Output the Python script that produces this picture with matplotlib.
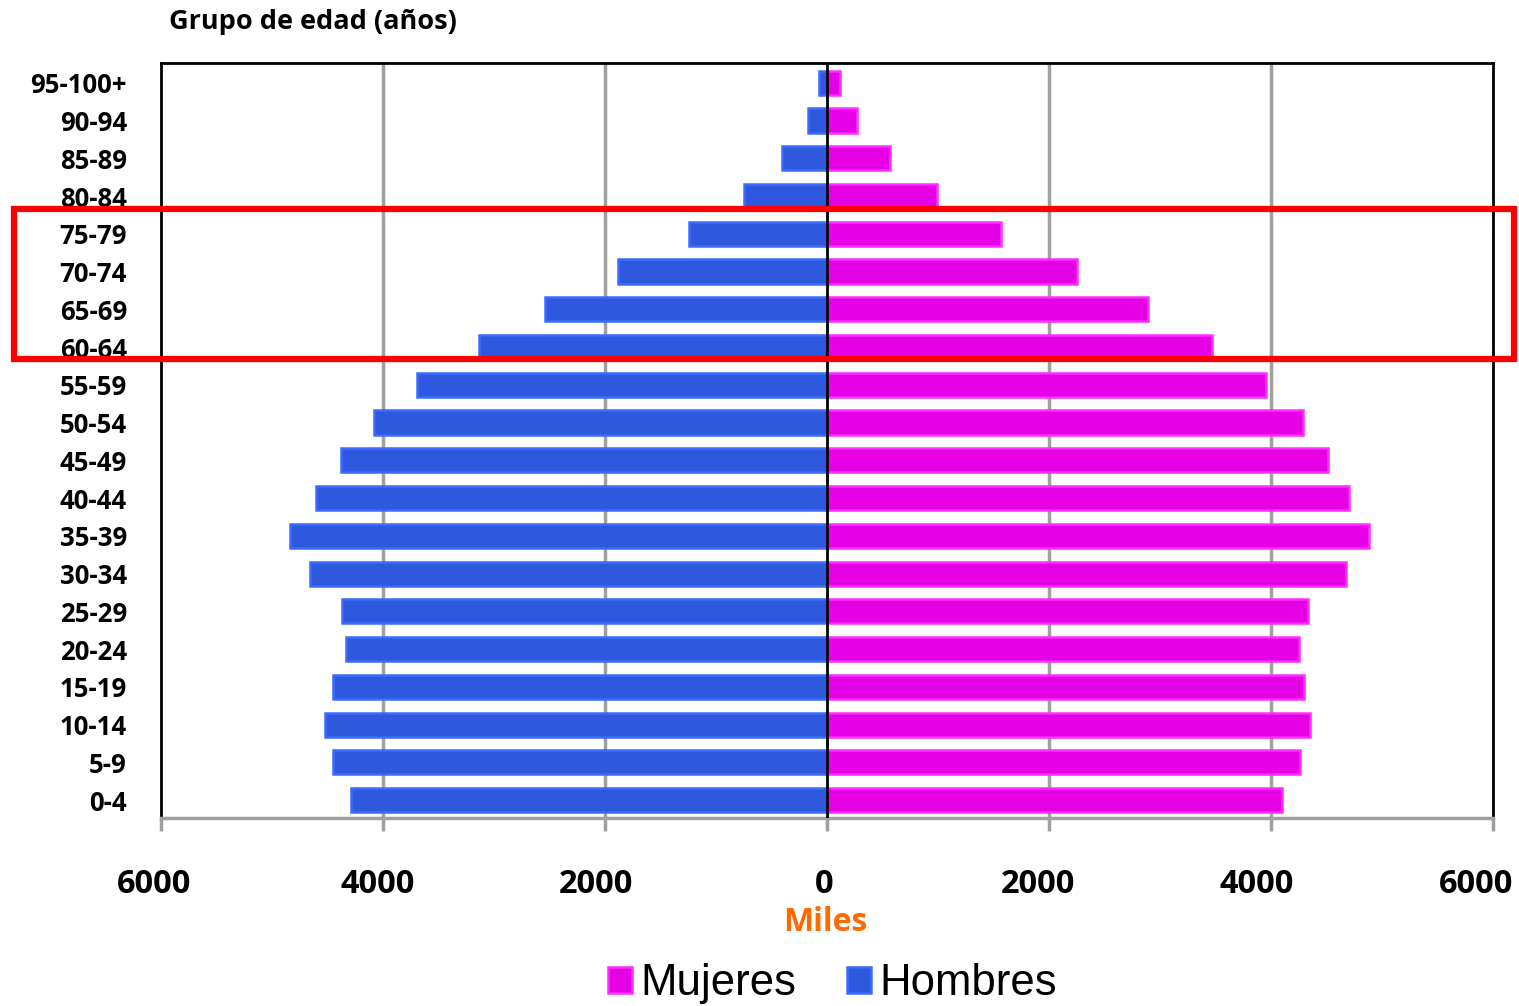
import numpy as np
import matplotlib
matplotlib.use("Agg")
import matplotlib.pyplot as plt
from matplotlib.patches import Rectangle
from matplotlib.transforms import ScaledTranslation

# age groups, youngest first (bottom of the pyramid)
grupos = ["0-4", "5-9", "10-14", "15-19", "20-24", "25-29", "30-34", "35-39",
          "40-44", "45-49", "50-54", "55-59", "60-64", "65-69", "70-74",
          "75-79", "80-84", "85-89", "90-94", "95-100+"]

# population in thousands
hombres = [4290, 4450, 4520, 4450, 4330, 4370, 4660, 4840, 4600, 4375,
           4080, 3690, 3140, 2540, 1880, 1240, 750, 405, 170, 75]
mujeres = [4100, 4260, 4350, 4300, 4250, 4330, 4670, 4880, 4700, 4510,
           4285, 3950, 3465, 2890, 2250, 1565, 990, 565, 270, 115]

xticks = [-6000, -4000, -2000, 0, 2000, 4000, 6000]

C_MUJ = "#e600e6"
C_MUJ_EDGE = "#ff2cff"
C_HOM = "#2e58de"
C_HOM_EDGE = "#3a6aff"
FONT = "Open Sans"

fig = plt.figure(figsize=(15.19, 10.06), dpi=100)
ax = fig.add_axes([0.106, 0.187, 0.877, 0.7506])

y = np.arange(len(grupos))
ax.barh(y, [-v for v in hombres], height=0.64, color=C_HOM,
        edgecolor=C_HOM_EDGE, linewidth=1.8, zorder=3, label="Hombres")
ax.barh(y, mujeres, height=0.64, color=C_MUJ,
        edgecolor=C_MUJ_EDGE, linewidth=1.8, zorder=3, label="Mujeres")

ax.axvline(0, color="black", lw=2, zorder=4)
for xv in [-4000, -2000, 2000, 4000]:
    ax.axvline(xv, color="#a0a0a0", lw=2.5, zorder=1)

ax.set_xlim(-6000, 6000)
ax.set_ylim(-0.47, 19.53)
ax.set_xticks(xticks)
ax.set_xticklabels([str(abs(v)) for v in xticks], fontsize=23.5,
                   fontweight="bold", family=FONT)
ax.tick_params(axis="x", length=9, width=2.5, color="#a0a0a0", pad=27)
# nudge the tick labels slightly left so the outer ones stay inside
shifts = [-7, -5, -9, -3, -11, -14, -17]
for lab, dx in zip(ax.get_xticklabels(), shifts):
    lab.set_transform(lab.get_transform() + ScaledTranslation(dx / 100, 0, fig.dpi_scale_trans))

ax.set_yticks(y)
ax.set_yticklabels(grupos, fontsize=18.5, fontweight="bold", family=FONT)
ax.tick_params(axis="y", length=0, pad=24.5)

for side in ["left", "right", "top"]:
    ax.spines[side].set_color("black")
    ax.spines[side].set_linewidth(2)
ax.spines["bottom"].set_color("#a0a0a0")
ax.spines["bottom"].set_linewidth(2.5)

fig.text(0.111, 0.978, "Grupo de edad (años)", fontsize=19.5, fontweight="bold",
         family=FONT, ha="left", va="center")
fig.text(0.543, 0.083, "Miles", fontsize=23, fontweight="bold",
         family=FONT, color="#ff6a00", ha="center", va="center")

# highlight box around the 60-79 age groups
fig.patches.append(Rectangle((0.0095, 0.643), 0.9875, 0.149, transform=fig.transFigure,
                             fill=False, edgecolor="#ff0000", lw=4.5, zorder=10))

h, l = ax.get_legend_handles_labels()
fig.legend(h[::-1], l[::-1], loc="center", bbox_to_anchor=(0.548, 0.022), ncol=2,
           frameon=False, prop={"family": "Liberation Sans", "size": 31.5},
           handlelength=0.55, handleheight=0.55, handletextpad=0.2, columnspacing=1.15)

fig.savefig("out.png", dpi=100)
